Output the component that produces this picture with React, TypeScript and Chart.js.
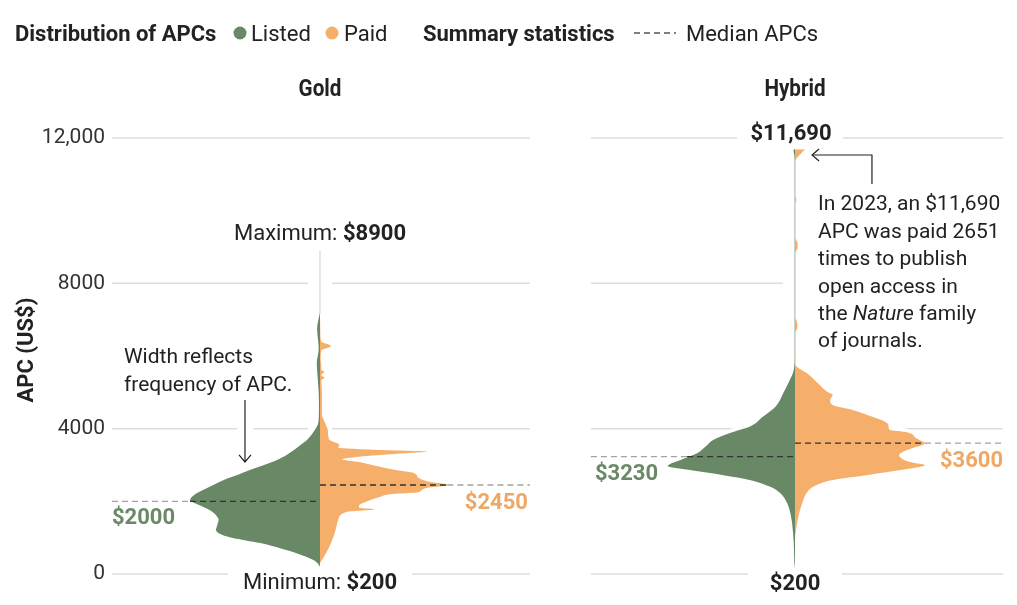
import React, { useEffect, useRef } from "react";
import { Chart, registerables } from "chart.js";
Chart.register(...registerables);

// ---------- data ----------
const PANELS = ["Gold", "Hybrid"];
const PANEL_CENTERS = [0, 3.654];
const PANEL_LEFT = [-1.6, 2.084];
const PANEL_RIGHT = [1.615, 5.254];
const Y_TICKS = [0, 4000, 8000, 12000];

// Gold, listed APCs: [APC, relative frequency]
const GOLD_LISTED_APC = [200, 300, 390, 570, 700, 850, 1000, 1070, 1210, 1350, 1490, 1620, 1760, 1900, 2030, 2170, 2310, 2450, 2590, 2730, 2860, 3000, 3140, 3270, 3410, 3550, 3690, 3830, 3960, 4100, 4250, 4600, 5000, 5500, 5800, 6200, 6750, 6900, 7100, 7200];
const GOLD_LISTED_FREQ = [0, 0.02, 0.054, 0.18, 0.3, 0.46, 0.68, 0.75, 0.8, 0.79, 0.78, 0.8, 0.85, 0.93, 1.0, 0.97, 0.9, 0.82, 0.74, 0.63, 0.54, 0.43, 0.33, 0.26, 0.2, 0.15, 0.1, 0.065, 0.04, 0.018, 0.01, 0.008, 0.01, 0.02, 0.025, 0.01, 0.022, 0.018, 0.006, 0];

// Gold, paid APCs
const GOLD_PAID_APC = [300, 470, 850, 1210, 1490, 1710, 1780, 1820, 1880, 1980, 2120, 2200, 2240, 2300, 2370, 2450, 2530, 2640, 2780, 2860, 3000, 3080, 3160, 3230, 3310, 3370, 3420, 3480, 3550, 3700, 3960, 4150, 4400, 5000, 5330, 5400, 5480, 5560, 5620, 5750, 5900, 6150, 6275, 6400, 6600, 7100];
const GOLD_PAID_FREQ = [0, 0.03, 0.085, 0.12, 0.14, 0.21, 0.42, 0.3, 0.3, 0.35, 0.46, 0.56, 0.74, 0.78, 0.82, 0.99, 0.85, 0.76, 0.72, 0.58, 0.4, 0.3, 0.17, 0.3, 0.6, 0.82, 0.4, 0.14, 0.15, 0.07, 0.06, 0.04, 0.015, 0.015, 0.01, 0.035, 0.01, 0.035, 0.01, 0.01, 0.005, 0.01, 0.085, 0.01, 0.003, 0];

// Hybrid, listed APCs
const HYBRID_LISTED_APC = [150, 300, 700, 1130, 1570, 1950, 2230, 2400, 2590, 2720, 2860, 2970, 3140, 3330, 3500, 3690, 3880, 4050, 4320, 4600, 4980, 5340, 5610, 6000, 8000, 10000, 11400, 11690];
const HYBRID_LISTED_FREQ = [0, 0.005, 0.008, 0.015, 0.03, 0.06, 0.115, 0.19, 0.35, 0.55, 0.81, 0.98, 0.88, 0.75, 0.69, 0.63, 0.5, 0.35, 0.25, 0.15, 0.09, 0.04, 0.01, 0.003, 0.003, 0.003, 0.003, 0.012];

// Hybrid, paid APCs
const HYBRID_PAID_APC = [1000, 1210, 1570, 1950, 2230, 2400, 2590, 2720, 2860, 3000, 3070, 3140, 3270, 3380, 3460, 3600, 3680, 3740, 3900, 3960, 4050, 4150, 4320, 4510, 4650, 4790, 4930, 5010, 5200, 5340, 5530, 5700, 5750, 6650, 6780, 6880, 7050, 8850, 8980, 9100, 9250, 10200, 10300, 10400, 11350, 11690];
const HYBRID_PAID_FREQ = [0, 0.008, 0.025, 0.055, 0.09, 0.14, 0.29, 0.55, 0.81, 1.0, 0.9, 0.84, 0.8, 0.84, 0.9, 1.0, 0.96, 0.93, 0.86, 0.73, 0.72, 0.71, 0.6, 0.45, 0.29, 0.27, 0.29, 0.25, 0.19, 0.15, 0.09, 0.015, 0.004, 0.004, 0.018, 0.018, 0.004, 0.004, 0.02, 0.02, 0.004, 0.004, 0.01, 0.004, 0.004, 0.077];

const MEDIANS_LISTED = [2000, 3230];
const MEDIANS_PAID = [2450, 3600];
const MEDIAN_EDGE_LISTED = [1.0, 0.83];
const MEDIAN_EDGE_PAID = [0.98, 1.0];
const MINIMUMS = [200, 200];
const MAXIMUMS = [8900, 11690];
const LISTED_TOP_GOLD = 7150;

// ---------- style ----------
const GREEN = "#688866";
const ORANGE = "#F6AE6B";
const GREEN_TXT = "#6A8A66";
const ORANGE_TXT = "#EFA763";
const INK = "#222222";
const F = "Roboto, 'Noto Sans', sans-serif";

function violin(label: string, apc: number[], freq: number[], center: number, side: number, color: string) {
  return {
    label,
    data: apc.map((a, i) => ({ x: center + side * freq[i], y: a })),
    borderWidth: 0,
    borderColor: color,
    backgroundColor: color,
    fill: { value: center },
    pointRadius: 0,
    cubicInterpolationMode: "monotone" as const,
    order: 2,
  };
}

function dashed(label: string, x0: number, x1: number, yv: number, color: string) {
  return {
    label,
    data: [{ x: x0, y: yv }, { x: x1, y: yv }],
    borderColor: color,
    borderWidth: 1.3,
    borderDash: [6, 4],
    pointRadius: 0,
    fill: false,
    order: 0,
  };
}

function buildDatasets() {
  const ds: any[] = [];
  ds.push(violin("violin-gold-listed", GOLD_LISTED_APC, GOLD_LISTED_FREQ, PANEL_CENTERS[0], -1, GREEN));
  ds.push(violin("violin-gold-paid", GOLD_PAID_APC, GOLD_PAID_FREQ, PANEL_CENTERS[0], 1, ORANGE));
  ds.push(violin("violin-hybrid-listed", HYBRID_LISTED_APC, HYBRID_LISTED_FREQ, PANEL_CENTERS[1], -1, GREEN));
  ds.push(violin("violin-hybrid-paid", HYBRID_PAID_APC, HYBRID_PAID_FREQ, PANEL_CENTERS[1], 1, ORANGE));
  ds.push({
    label: "gold-tail",
    data: [{ x: PANEL_CENTERS[0], y: LISTED_TOP_GOLD }, { x: PANEL_CENTERS[0], y: MAXIMUMS[0] }],
    borderColor: "#cfcfcf",
    borderWidth: 1,
    pointRadius: 0,
    fill: false,
    order: 3,
  });
  for (let i = 0; i < 2; i++) {
    const c = PANEL_CENTERS[i];
    ds.push(dashed("med-l-out", PANEL_LEFT[i], c - MEDIAN_EDGE_LISTED[i], MEDIANS_LISTED[i], "#a3a3a3"));
    ds.push(dashed("med-l-in", c - MEDIAN_EDGE_LISTED[i], c, MEDIANS_LISTED[i], "#333333"));
    ds.push(dashed("med-p-in", c, c + MEDIAN_EDGE_PAID[i], MEDIANS_PAID[i], "#333333"));
    ds.push(dashed("med-p-out", c + MEDIAN_EDGE_PAID[i], PANEL_RIGHT[i], MEDIANS_PAID[i], "#a3a3a3"));
  }
  return ds;
}

type Part = { t: string; font: string; color?: string };
function drawParts(ctx: CanvasRenderingContext2D, parts: Part[], x: number, y: number, align: "left" | "center" | "right") {
  let total = 0;
  const widths = parts.map((p) => {
    ctx.font = p.font;
    const w = ctx.measureText(p.t).width;
    total += w;
    return w;
  });
  let cx = align === "left" ? x : align === "center" ? x - total / 2 : x - total;
  ctx.textAlign = "left";
  ctx.textBaseline = "alphabetic";
  parts.forEach((p, i) => {
    ctx.font = p.font;
    ctx.fillStyle = p.color || INK;
    ctx.fillText(p.t, cx, y);
    cx += widths[i];
  });
}

const overlay = {
  id: "overlay",
  beforeDatasetsDraw(chart: any) {
    const { ctx, scales } = chart;
    const xs = scales.x, ys = scales.y;
    const px = (v: number) => xs.getPixelForValue(v);
    const py = (v: number) => ys.getPixelForValue(v);
    ctx.save();
    // grid lines, per panel
    ctx.strokeStyle = "#dddddd";
    ctx.lineWidth = 1.5;
    Y_TICKS.forEach((t) => {
      const yy = py(t);
      for (let i = 0; i < 2; i++) {
        ctx.beginPath();
        ctx.moveTo(px(PANEL_LEFT[i]), yy);
        ctx.lineTo(px(PANEL_RIGHT[i]), yy);
        ctx.stroke();
      }
    });
    // white halos
    ctx.fillStyle = "#fff";
    for (let i = 0; i < 2; i++) {
      const cxp = px(PANEL_CENTERS[i]);
      const top = py(MAXIMUMS[i]);
      const bot = py(MINIMUMS[i]);
      ctx.fillRect(cxp - 12, top, 24, bot - top);
    }
    ctx.strokeStyle = "#fff";
    ctx.lineWidth = 7;
    chart.data.datasets.forEach((d: any, i: number) => {
      if (!String(d.label).startsWith("violin")) return;
      const meta = chart.getDatasetMeta(i);
      if (meta && meta.dataset && meta.dataset.path) {
        ctx.beginPath();
        meta.dataset.path(ctx);
        ctx.stroke();
      }
    });
    // halo around gold arrow
    const ax = px(PANEL_CENTERS[0] - 0.577);
    ctx.fillRect(ax - 8, py(4789), 16, py(3083) - py(4789));
    // label backgrounds
    const gc = px(PANEL_CENTERS[0]);
    const hc = px(PANEL_CENTERS[1]);
    ctx.fillRect(gc - 92, py(MINIMUMS[0]) + 2, 184, 30);
    ctx.fillRect(hc - 47, py(MINIMUMS[1]) + 2, 94, 30);
    ctx.fillRect(hc - 58, py(MAXIMUMS[1]) - 30, 106, 26);
    ctx.fillRect(hc - 12, py(10500), 230, py(6300) - py(10500));
    ctx.restore();
  },
  afterDraw(chart: any) {
    const { ctx, scales } = chart;
    const xs = scales.x, ys = scales.y;
    const px = (v: number) => xs.getPixelForValue(v);
    const py = (v: number) => ys.getPixelForValue(v);
    ctx.save();
    const R = `22px ${F}`;
    const B = `bold 22px ${F}`;
    const A = `21px ${F}`;

    // legend
    const ly = 41;
    drawParts(ctx, [{ t: "Distribution of APCs", font: B }], 15, ly, "left");
    ctx.fillStyle = GREEN;
    ctx.beginPath(); ctx.arc(240, 33, 6.5, 0, Math.PI * 2); ctx.fill();
    drawParts(ctx, [{ t: "Listed", font: R }], 251, ly, "left");
    ctx.fillStyle = ORANGE;
    ctx.beginPath(); ctx.arc(332, 33, 6.5, 0, Math.PI * 2); ctx.fill();
    drawParts(ctx, [{ t: "Paid", font: R }], 344, ly, "left");
    drawParts(ctx, [{ t: "Summary statistics", font: B }], 423, ly, "left");
    ctx.strokeStyle = "#555";
    ctx.lineWidth = 1.3;
    ctx.setLineDash([6, 4]);
    ctx.beginPath(); ctx.moveTo(634, 33); ctx.lineTo(676, 33); ctx.stroke();
    ctx.setLineDash([]);
    drawParts(ctx, [{ t: "Median APCs", font: R }], 686, ly, "left");

    // panel titles (condensed look)
    PANELS.forEach((p, i) => {
      ctx.save();
      ctx.translate(px(PANEL_CENTERS[i]), 96);
      ctx.scale(0.86, 1);
      ctx.font = `bold 24px ${F}`;
      ctx.fillStyle = INK;
      ctx.textAlign = "center";
      ctx.textBaseline = "alphabetic";
      ctx.fillText(p, 0, 0);
      ctx.restore();
    });

    // y axis title
    ctx.save();
    ctx.translate(27, 350);
    ctx.rotate(-Math.PI / 2);
    ctx.font = `bold 22px ${F}`;
    ctx.fillStyle = INK;
    ctx.textAlign = "center";
    ctx.textBaseline = "middle";
    ctx.fillText("APC (US$)", 0, 0);
    ctx.restore();

    const gc = px(PANEL_CENTERS[0]);
    const hc = px(PANEL_CENTERS[1]);

    // min / max labels
    drawParts(ctx, [{ t: "Maximum: ", font: R }, { t: "$" + MAXIMUMS[0], font: B }], gc, py(MAXIMUMS[0]) - 11, "center");
    drawParts(ctx, [{ t: "Minimum: ", font: R }, { t: "$" + MINIMUMS[0], font: B }], gc, py(MINIMUMS[0]) + 22, "center");
    drawParts(ctx, [{ t: "$" + MINIMUMS[1], font: B }], hc, py(MINIMUMS[1]) + 23, "center");
    drawParts(ctx, [{ t: "$" + MAXIMUMS[1].toLocaleString("en-US"), font: B }], hc - 4, py(MAXIMUMS[1]) - 9, "center");

    // medians labels
    drawParts(ctx, [{ t: "$" + MEDIANS_LISTED[0], font: B, color: GREEN_TXT }], px(PANEL_LEFT[0]), py(MEDIANS_LISTED[0]) + 23, "left");
    drawParts(ctx, [{ t: "$" + MEDIANS_PAID[0], font: B, color: ORANGE_TXT }], px(PANEL_RIGHT[0]) - 2, py(MEDIANS_PAID[0]) + 24, "right");
    drawParts(ctx, [{ t: "$" + MEDIANS_LISTED[1], font: B, color: GREEN_TXT }], px(PANEL_LEFT[1]) + 4, py(MEDIANS_LISTED[1]) + 23, "left");
    drawParts(ctx, [{ t: "$" + MEDIANS_PAID[1], font: B, color: ORANGE_TXT }], px(PANEL_RIGHT[1]), py(MEDIANS_PAID[1]) + 24, "right");

    // gold annotation
    const gx = px(PANEL_CENTERS[0] - 1.508);
    drawParts(ctx, [{ t: "Width reflects", font: A }], gx, py(5794), "left");
    drawParts(ctx, [{ t: "frequency of APC.", font: A }], gx, py(5023), "left");
    ctx.strokeStyle = INK;
    ctx.lineWidth = 1.2;
    const ax = px(PANEL_CENTERS[0] - 0.577);
    const ay0 = py(4789), ay1 = py(3083);
    ctx.beginPath(); ctx.moveTo(ax, ay0); ctx.lineTo(ax, ay1); ctx.stroke();
    ctx.beginPath(); ctx.moveTo(ax - 6, ay1 - 7); ctx.lineTo(ax, ay1); ctx.lineTo(ax + 6, ay1 - 7); ctx.stroke();

    // hybrid annotation
    const hx = px(PANEL_CENTERS[1] + 0.177);
    const lines: Part[][] = [
      [{ t: "In 2023, an $11,690", font: A }],
      [{ t: "APC was paid 2651", font: A }],
      [{ t: "times to publish", font: A }],
      [{ t: "open access in", font: A }],
      [{ t: "the ", font: A }, { t: "Nature", font: `italic 21px ${F}` }, { t: " family", font: A }],
      [{ t: "of journals.", font: A }],
    ];
    const top = py(10005);
    lines.forEach((l, i) => drawParts(ctx, l, hx, top + i * 27.4, "left"));
    const bx = px(PANEL_CENTERS[1] + 0.592);
    const by0 = py(10734), by1 = py(11532);
    const bx1 = px(PANEL_CENTERS[1] + 0.131);
    ctx.beginPath(); ctx.moveTo(bx, by0); ctx.lineTo(bx, by1); ctx.lineTo(bx1, by1); ctx.stroke();
    ctx.beginPath(); ctx.moveTo(bx1 + 7, by1 - 6); ctx.lineTo(bx1, by1); ctx.lineTo(bx1 + 7, by1 + 6); ctx.stroke();

    ctx.restore();
  },
};

export default function App() {
  const ref = useRef<HTMLCanvasElement>(null);
  useEffect(() => {
    if (!ref.current) return;
    const chart = new Chart(ref.current, {
      type: "line",
      data: { datasets: buildDatasets() },
      options: {
        indexAxis: "y",
        animation: false,
        responsive: true,
        maintainAspectRatio: false,
        layout: { padding: { top: 138, bottom: 31, left: 0, right: 14 } },
        plugins: { legend: { display: false }, tooltip: { enabled: false } },
        events: [],
        scales: {
          x: { type: "linear", min: -1.6, max: 5.254, display: false },
          y: {
            type: "linear",
            position: "left",
            min: 0,
            max: 12000,
            afterFit: (s: any) => { s.width = 112; },
            afterBuildTicks: (s: any) => { s.ticks = Y_TICKS.map((v) => ({ value: v })); },
            grid: { display: false, drawTicks: false },
            border: { display: false },
            ticks: {
              padding: 7,
              color: "#333",
              font: { size: 21, family: F },
              callback: (v: any) => (Number(v) >= 10000 ? Number(v).toLocaleString("en-US") : String(v)),
            },
          },
        },
      } as any,
      plugins: [overlay],
    });
    return () => chart.destroy();
  }, []);
  return (
    <div style={{ position: "fixed", left: 0, top: 0, width: 1017, height: 605, background: "#fff" }}>
      <canvas ref={ref} />
    </div>
  );
}
